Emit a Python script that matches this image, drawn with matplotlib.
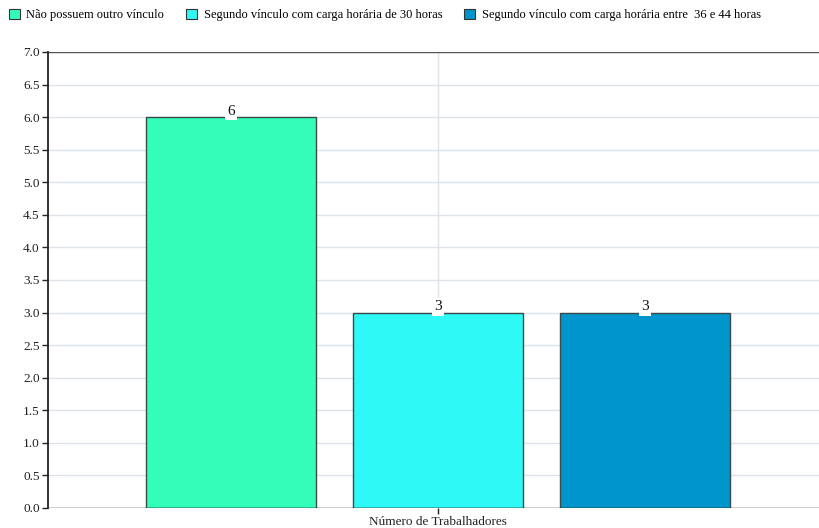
import numpy as np
import matplotlib.pyplot as plt
from matplotlib.patches import Patch

plt.rcParams['font.family'] = ['Liberation Serif', 'DejaVu Serif']

categoria = 'Número de Trabalhadores'
series = ['Não possuem outro vínculo',
          'Segundo vínculo com carga horária de 30 horas',
          'Segundo vínculo com carga horária entre  36 e 44 horas']
valores = [6, 3, 3]
cores = ['#33fdb9', '#2ff9f6', '#0096cb']

fig = plt.figure(figsize=(8.2, 5.28), dpi=100)
ax = fig.add_axes([48/820, 20/528, 780/820, 456/528])

largura = 0.218
desloc = [-0.2654, 0.0, 0.2654]
for i, (nome, v, c) in enumerate(zip(series, valores, cores)):
    ax.bar(desloc[i], v, width=largura, color=c, edgecolor='#3a4a4a',
           linewidth=1.0, zorder=3, label=nome)
    ax.text(desloc[i], v - 0.01, str(v), ha='center', va='bottom', fontsize=11,
            color='#111111', zorder=5,
            bbox=dict(boxstyle='square,pad=0.15', fc='white', ec='none'))

ax.set_xlim(-0.5, 0.5)
ax.set_ylim(0, 7)
ax.set_yticks(np.arange(0, 7.01, 0.5))
ax.set_yticklabels([f'{t:.1f}' for t in np.arange(0, 7.01, 0.5)])
ax.set_xticks([0])
ax.set_xticklabels([categoria])

ax.grid(True, color='#dde3e8', linewidth=1.0, zorder=0)
ax.set_axisbelow(True)
for s in ax.spines.values():
    s.set_visible(False)
# eixos desenhados a mão: topo, esquerda e base
ax.axhline(7, color='#555555', linewidth=1.0, zorder=4)
ax.axhline(0, color='#222222', linewidth=1.0, zorder=4)
ax.axvline(-0.5, color='#222222', linewidth=1.3, zorder=4, clip_on=False)
ax.tick_params(axis='y', length=4, width=1, labelsize=9.5, pad=2, colors='#222222')
ax.tick_params(axis='x', length=4, width=1, labelsize=9.5, pad=2, colors='#222222')

handles = [Patch(facecolor=c, edgecolor='#333333', linewidth=0.8) for c in cores]
fig.legend(handles, series, loc='upper left', bbox_to_anchor=(0.0, 1.0), ncol=3,
           frameon=False, fontsize=9, handlelength=0.9, handleheight=0.9,
           handletextpad=0.5, columnspacing=1.75, borderaxespad=0.3)

fig.savefig('out.png', dpi=100, facecolor='white')
